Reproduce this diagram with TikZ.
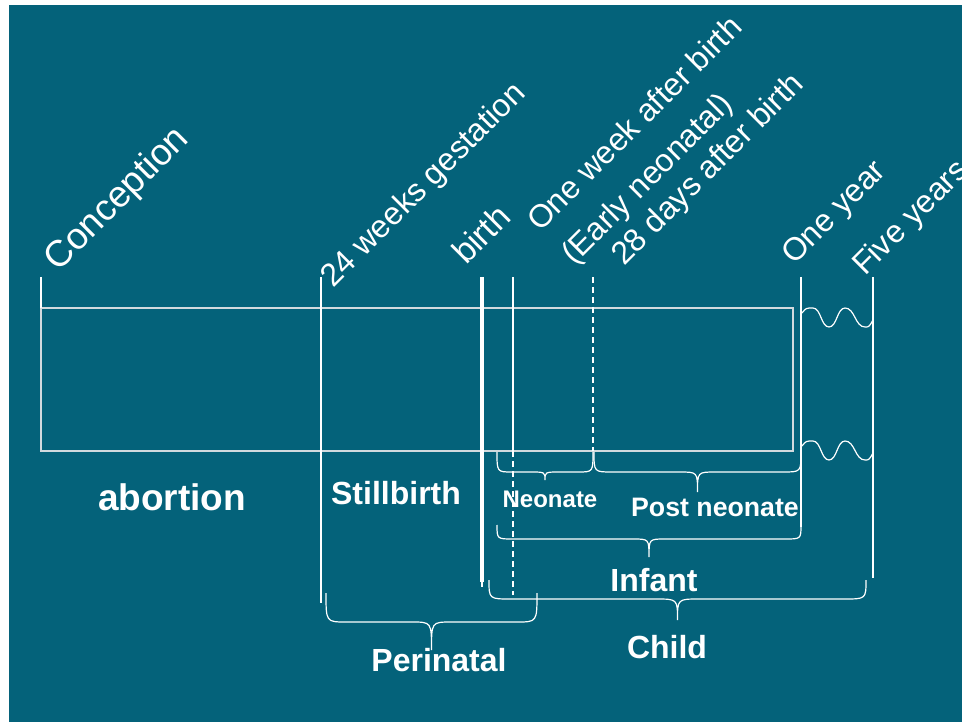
\documentclass[tikz,border=0pt]{standalone}
\usepackage{fontspec}
\setmainfont{Liberation Sans}
\definecolor{bg}{HTML}{04627A}
\definecolor{boxline}{HTML}{D2DADE}
\newcommand\cbrace[6]{% x1, x2, ytop, yh, ytip, r
  \draw[brace] (#1,#3) .. controls (#1,#4) .. (#1+#6,#4)
    -- ({(#1+#2)/2-#6},#4) .. controls ({(#1+#2)/2},#4) .. ({(#1+#2)/2},#5)
    .. controls ({(#1+#2)/2},#4) .. ({(#1+#2)/2+#6},#4)
    -- (#2-#6,#4) .. controls (#2,#4) .. (#2,#3);}
\newcommand\wavebreak{%
  \draw[brace] (802,313) .. controls (806,308) .. (813,308)
    .. controls (821,308) and (821,327) .. (829,327)
    .. controls (837,327) and (837,308) .. (845,308)
    .. controls (855,308) and (855,327) .. (865,327)
    .. controls (869,327) .. (873,320);}
\begin{document}
\begin{tikzpicture}[x=1pt,y=-1pt,
  tick/.style={draw=white,line width=1.5pt},
  dashtick/.style={draw=white,line width=1.5pt,dash pattern=on 6pt off 4pt},
  brace/.style={draw=white,line width=1.2pt},
  rlab/.style={text=white,rotate=45,anchor=base west,inner sep=0pt,font=\fontsize{32}{38}\selectfont},
  blab/.style={text=white,inner sep=0pt,font=\bfseries\fontsize{32}{38}\selectfont},
]
\useasboundingbox (0,0) rectangle (962,722);
\fill[white] (0,0) rectangle (962,722);
\fill[bg] (9,5) rectangle (962,722);

% main box
\draw[boxline,line width=1.5pt] (41,308) rectangle (793,451);

% tick lines
\draw[tick] (41,277) -- (41,308);
\draw[tick] (321,277) -- (321,603);
\draw[draw=white,line width=3.5pt] (482,277) -- (482,582);
\draw[tick] (482,580) -- (482,587);
\draw[tick] (513,277) -- (513,451);
\draw[dashtick] (513,451) -- (513,595);
\draw[dashtick] (593,277) -- (593,451);
\draw[tick] (801,277) -- (801,527);
\draw[tick] (873,277) -- (873,578);

% wavy breaks
\wavebreak
\begin{scope}[shift={(0,133)}]\wavebreak\end{scope}

% braces
\cbrace{497}{593}{452}{472}{480}{15}
\cbrace{594}{801}{452}{472}{492}{18}
\cbrace{497}{801}{525}{539}{557}{16}
\cbrace{489}{866}{580}{599}{620}{22}
\cbrace{326}{537}{593}{622}{650}{20}

% rotated labels
\node[rlab,font=\fontsize{37}{44}\selectfont] (conc) at (58,273) {Conception};
\node[rlab] (w24) at (333,289) {24 weeks gestation};
\node[rlab,font=\fontsize{34}{40}\selectfont] (birth) at (466,266) {birth};
\node[rlab] (week) at (540,233) {One week after birth};
\node[rlab] (early) at (574,266) {(Early neonatal)};
\node[rlab] (d28) at (624,267) {28 days after birth};
\node[rlab] (y1) at (794,266) {One year};
\node[rlab] (y5) at (865,277) {Five years};

% bold labels
\node[blab,font=\bfseries\fontsize{37}{44}\selectfont] (abortion) at (172,497) {abortion};
\node[blab] (still) at (396,493) {Stillbirth};
\node[blab,font=\bfseries\fontsize{24}{29}\selectfont] (neo) at (550,499) {Neonate};
\node[blab,font=\bfseries\fontsize{26.7}{32}\selectfont] (post) at (715,507) {Post neonate};
\node[blab] (infant) at (654,580) {Infant};
\node[blab] (child) at (667,647) {Child};
\node[blab] (peri) at (439,660) {Perinatal};
\end{tikzpicture}
\end{document}
